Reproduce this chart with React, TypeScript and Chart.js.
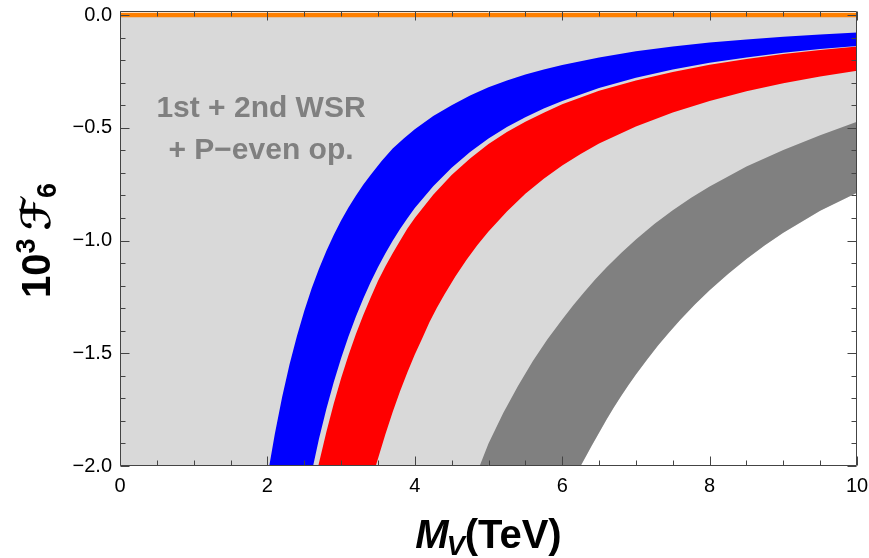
import React, { useEffect, useRef } from "react";
import { Chart, registerables } from "chart.js";

Chart.register(...registerables);

// ---------- tick values / labels ----------
const xTickValues = [0, 2, 4, 6, 8, 10];
const xTickLabels = ["0", "2", "4", "6", "8", "10"];
const yTickValues = [-2, -1.5, -1, -0.5, 0];
const yTickLabels = ["−2.0", "−1.5", "−1.0", "−0.5", "0.0"];
const xMinorTicks = [0.5, 1, 1.5, 2.5, 3, 3.5, 4.5, 5, 5.5, 6.5, 7, 7.5, 8.5, 9, 9.5];
const yMinorTicks = [-1.9, -1.8, -1.7, -1.6, -1.4, -1.3, -1.2, -1.1, -0.9, -0.8, -0.7, -0.6, -0.4, -0.3, -0.2, -0.1];

// ---------- blue band ----------
const blueUpperX = [2.025, 2.1, 2.2, 2.3, 2.4, 2.5, 2.6, 2.7, 2.8, 2.9, 3.0, 3.1, 3.2, 3.3, 3.4, 3.55, 3.7, 3.85, 4.0, 4.25, 4.5, 4.75, 5.0, 5.25, 5.5, 5.75, 6.0, 6.5, 7.0, 7.5, 8.0, 8.5, 9.0, 9.5, 10];
const blueUpperY = [-2.0, -1.859, -1.694, -1.55, -1.424, -1.312, -1.213, -1.125, -1.046, -0.975, -0.911, -0.853, -0.801, -0.753, -0.709, -0.647, -0.592, -0.547, -0.506, -0.448, -0.4, -0.357, -0.32, -0.29, -0.264, -0.242, -0.222, -0.188, -0.161, -0.14, -0.122, -0.108, -0.096, -0.086, -0.077];
const blueLowerX = [2.62, 2.7, 2.8, 2.9, 3.0, 3.1, 3.2, 3.3, 3.4, 3.5, 3.6, 3.7, 3.8, 3.9, 4.0, 4.25, 4.5, 4.75, 5.0, 5.25, 5.5, 5.75, 6.0, 6.5, 7.0, 7.5, 8.0, 8.5, 9.0, 9.5, 10];
const blueLowerY = [-2.0, -1.879, -1.747, -1.629, -1.522, -1.426, -1.338, -1.258, -1.185, -1.118, -1.057, -1.001, -0.949, -0.901, -0.856, -0.759, -0.677, -0.607, -0.548, -0.497, -0.453, -0.414, -0.381, -0.323, -0.278, -0.242, -0.212, -0.188, -0.167, -0.15, -0.137];

// ---------- red band ----------
const redUpperX = [2.69, 2.8, 2.9, 3.0, 3.1, 3.2, 3.3, 3.4, 3.5, 3.6, 3.7, 3.8, 3.9, 4.0, 4.25, 4.5, 4.75, 5.0, 5.25, 5.5, 5.75, 6.0, 6.5, 7.0, 7.5, 8.0, 8.5, 9.0, 9.5, 10];
const redUpperY = [-2.0, -1.849, -1.724, -1.611, -1.509, -1.416, -1.331, -1.254, -1.18, -1.115, -1.056, -1.001, -0.947, -0.9, -0.797, -0.709, -0.636, -0.572, -0.519, -0.473, -0.433, -0.396, -0.336, -0.29, -0.252, -0.22, -0.195, -0.173, -0.155, -0.14];
const redLowerX = [3.47, 3.6, 3.7, 3.8, 3.9, 4.0, 4.1, 4.2, 4.3, 4.4, 4.55, 4.7, 4.85, 5.0, 5.25, 5.5, 5.75, 6.0, 6.25, 6.5, 7.0, 7.5, 8.0, 8.5, 9.0, 9.5, 10];
const redLowerY = [-2.0, -1.86, -1.76, -1.669, -1.584, -1.506, -1.434, -1.361, -1.298, -1.24, -1.159, -1.086, -1.02, -0.96, -0.871, -0.793, -0.726, -0.667, -0.616, -0.57, -0.494, -0.432, -0.381, -0.338, -0.302, -0.273, -0.247];

// ---------- dark gray band ----------
const grayUpperX = [4.88, 5.0, 5.2, 5.4, 5.6, 5.8, 6.0, 6.15, 6.3, 6.45, 6.6, 6.8, 7.0, 7.25, 7.5, 7.75, 8.0, 8.5, 9.0, 9.5, 10];
const grayUpperY = [-2.0, -1.9, -1.765, -1.645, -1.535, -1.438, -1.35, -1.287, -1.228, -1.172, -1.12, -1.055, -0.995, -0.927, -0.866, -0.81, -0.76, -0.672, -0.598, -0.533, -0.473];
const grayLowerX = [6.25, 6.4, 6.5, 6.6, 6.7, 6.8, 6.9, 7.0, 7.15, 7.3, 7.45, 7.6, 7.8, 8.0, 8.25, 8.5, 8.75, 9.0, 9.5, 10];
const grayLowerY = [-2.0, -1.91, -1.852, -1.795, -1.741, -1.69, -1.641, -1.594, -1.529, -1.466, -1.408, -1.353, -1.284, -1.22, -1.149, -1.082, -1.021, -0.965, -0.868, -0.788];

// ---------- allowed region (light gray) left edge & orange line ----------
const regionStartX = [0];
const regionStartY = [-2.0];
const orangeX = [0, 10];
const orangeY = [0, 0];

const FONT = '"Liberation Sans", Arial, Helvetica, sans-serif';

const pts = (xs: number[], ys: number[]) => xs.map((x, i) => ({ x, y: ys[i] }));
const band = (ux: number[], uy: number[], lx: number[], ly: number[]) =>
  [...pts(ux, uy), ...pts(lx, ly).reverse()];

const zeroPad = (s: any) => {
  s.paddingLeft = 0;
  s.paddingRight = 0;
  s.paddingTop = 0;
  s.paddingBottom = 0;
};

const decorPlugin = {
  id: "decor",
  afterDatasetsDraw(chart: any) {
    const { ctx, chartArea: a, scales } = chart;
    const xs = scales.x;
    const ys = scales.y;
    ctx.save();
    ctx.strokeStyle = "#444";
    ctx.lineWidth = 1;
    ctx.beginPath();
    const L = Math.round(a.left) + 0.5;
    const R = Math.round(a.right) - 0.5;
    const T = Math.round(a.top) + 0.5;
    const B = Math.round(a.bottom) - 0.5;
    ctx.moveTo(L, T);
    ctx.lineTo(R, T);
    ctx.lineTo(R, B);
    ctx.lineTo(L, B);
    ctx.closePath();
    const tick = (v: number, len: number) => {
      const p = Math.round(xs.getPixelForValue(v)) + 0.5;
      ctx.moveTo(p, B);
      ctx.lineTo(p, B - len);
      ctx.moveTo(p, T);
      ctx.lineTo(p, T + len);
    };
    const ytick = (v: number, len: number) => {
      const p = Math.round(ys.getPixelForValue(v)) + 0.5;
      ctx.moveTo(L, p);
      ctx.lineTo(L + len, p);
      ctx.moveTo(R, p);
      ctx.lineTo(R - len, p);
    };
    xTickValues.forEach((v) => tick(v, 9));
    xMinorTicks.forEach((v) => tick(v, 5));
    yTickValues.forEach((v) => ytick(v, 9));
    yMinorTicks.forEach((v) => ytick(v, 5));
    ctx.stroke();
    ctx.restore();
  },
  afterDraw(chart: any) {
    const { ctx, chartArea: a } = chart;
    ctx.save();
    // annotation
    ctx.fillStyle = "#808080";
    ctx.textAlign = "center";
    ctx.textBaseline = "alphabetic";
    ctx.font = `bold 30px ${FONT}`;
    ctx.fillText("1st + 2nd WSR", 261, 117);
    ctx.fillText("+ P−even op.", 261, 159);

    // x title
    ctx.fillStyle = "#000";
    ctx.textAlign = "left";
    const big = `bold 40px ${FONT}`;
    const bigIt = `italic bold 40px ${FONT}`;
    const smallIt = `italic bold 27px ${FONT}`;
    ctx.font = bigIt;
    const wM = ctx.measureText("M").width;
    ctx.font = smallIt;
    const wV = ctx.measureText("V").width;
    ctx.font = big;
    const wT = ctx.measureText("(TeV)").width;
    const total = wM + wV + wT - 2;
    const cx = (a.left + a.right) / 2;
    let x0 = cx - total / 2;
    const base = 548;
    ctx.font = bigIt;
    ctx.fillText("M", x0, base);
    x0 += wM - 2;
    ctx.font = smallIt;
    ctx.fillText("V", x0, base + 7);
    x0 += wV;
    ctx.font = big;
    ctx.fillText("(TeV)", x0, base);

    // y title (rotated)
    ctx.translate(50, (a.top + a.bottom) / 2 + 2);
    ctx.rotate(-Math.PI / 2);
    const small = `bold 27px ${FONT}`;
    const script = `bold 40px "DejaVu Sans", sans-serif`;
    ctx.font = big;
    const w1 = ctx.measureText("10").width;
    ctx.font = small;
    const w2 = ctx.measureText("3").width;
    ctx.font = script;
    const w3 = ctx.measureText("ℱ").width;
    ctx.font = small;
    const w4 = ctx.measureText("6").width;
    const gap = 8;
    const tot = w1 + w2 + gap + w3 + w4;
    let y0 = -tot / 2;
    ctx.font = big;
    ctx.fillText("10", y0, 0);
    y0 += w1;
    ctx.font = small;
    ctx.fillText("3", y0, -15);
    y0 += w2 + gap;
    ctx.font = script;
    ctx.fillText("ℱ", y0, 0);
    y0 += w3;
    ctx.font = small;
    ctx.fillText("6", y0, 6);
    ctx.restore();
  },
};

export default function App() {
  const ref = useRef<HTMLCanvasElement | null>(null);
  useEffect(() => {
    document.body.style.margin = "0";
    const canvas = ref.current;
    if (!canvas) return;
    const chart = new Chart(canvas, {
      type: "line",
      data: {
        datasets: [
          {
            label: "orange",
            data: pts(orangeX, orangeY),
            borderColor: "#FF8000",
            borderWidth: 4.5,
            fill: false,
            order: 1,
          },
          {
            label: "blue",
            data: band(blueUpperX, blueUpperY, blueLowerX, blueLowerY),
            borderWidth: 0,
            borderColor: "rgba(0,0,0,0)",
            backgroundColor: "#0000FF",
            fill: "shape",
            order: 2,
          },
          {
            label: "red",
            data: band(redUpperX, redUpperY, redLowerX, redLowerY),
            borderWidth: 0,
            borderColor: "rgba(0,0,0,0)",
            backgroundColor: "#FF0000",
            fill: "shape",
            order: 2,
          },
          {
            label: "gray",
            data: band(grayUpperX, grayUpperY, grayLowerX, grayLowerY),
            borderWidth: 0,
            borderColor: "rgba(0,0,0,0)",
            backgroundColor: "#808080",
            fill: "shape",
            order: 2,
          },
          {
            label: "region",
            data: [...pts(regionStartX, regionStartY), ...pts(grayLowerX, grayLowerY)],
            borderWidth: 0,
            borderColor: "rgba(0,0,0,0)",
            backgroundColor: "#D9D9D9",
            fill: "origin",
            order: 3,
          },
        ],
      } as any,
      options: {
        animation: false,
        responsive: false,
        maintainAspectRatio: false,
        layout: { padding: { left: 0, right: 12, top: 11, bottom: 0 } },
        plugins: { legend: { display: false }, tooltip: { enabled: false } },
        elements: { point: { radius: 0 }, line: { tension: 0 } },
        scales: {
          x: {
            type: "linear",
            min: 0,
            max: 10,
            grid: { display: false, drawTicks: false },
            border: { display: false },
            ticks: {
              padding: 10,
              color: "#000",
              font: { family: FONT, size: 20, lineHeight: 1 },
              callback: (v: any) => {
                const i = xTickValues.indexOf(Number(v));
                return i >= 0 ? xTickLabels[i] : "";
              },
            },
            afterBuildTicks: (s: any) => {
              s.ticks = xTickValues.map((v) => ({ value: v }));
            },
            afterFit: (s: any) => {
              s.height = 92;
              zeroPad(s);
            },
          },
          y: {
            type: "linear",
            min: -2,
            max: 0.018,
            grid: { display: false, drawTicks: false },
            border: { display: false },
            ticks: {
              padding: 8,
              color: "#000",
              font: { family: FONT, size: 20, lineHeight: 1 },
              callback: (v: any) => {
                const i = yTickValues.findIndex((t) => Math.abs(t - Number(v)) < 1e-9);
                return i >= 0 ? yTickLabels[i] : "";
              },
            },
            afterBuildTicks: (s: any) => {
              s.ticks = yTickValues.map((v) => ({ value: v }));
            },
            afterFit: (s: any) => {
              s.width = 120;
              zeroPad(s);
            },
          },
        },
      } as any,
      plugins: [decorPlugin],
    });
    return () => chart.destroy();
  }, []);
  return (
    <div style={{ width: 869, height: 558 }}>
      <canvas ref={ref} width={869} height={558} style={{ display: "block", width: 869, height: 558 }} />
    </div>
  );
}
